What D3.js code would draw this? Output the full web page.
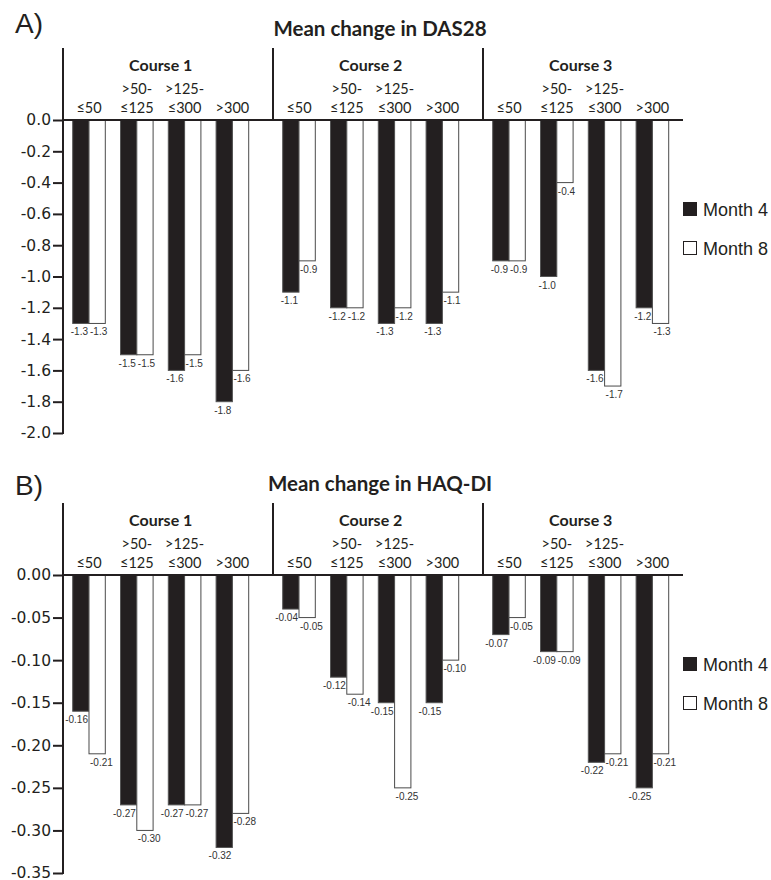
<!DOCTYPE html>
<html>
<head>
<meta charset="utf-8">
<script src="https://cdn.jsdelivr.net/npm/d3@7"></script>
<style>
  body { margin: 0; background: #fff; }
  .tick line { stroke: #231f20; stroke-width: 2; }
  .tick text { font-family: "DejaVu Sans", sans-serif; font-size: 15.5px; fill: #231f20; }
</style>
</head>
<body>
<script>
// data
let courses = ["Course 1", "Course 2", "Course 3"],
  doseGroups = ["≤50", ">50-\n≤125", ">125-\n≤300", ">300"],
  seriesNames = ["Month 4", "Month 8"];

let das28Month4 = [-1.3, -1.5, -1.6, -1.8, -1.1, -1.2, -1.3, -1.3, -0.9, -1.0, -1.6, -1.2],
  das28Month8 = [-1.3, -1.5, -1.5, -1.6, -0.9, -1.2, -1.2, -1.1, -0.9, -0.4, -1.7, -1.3],
  das28Ticks = [0, -0.2, -0.4, -0.6, -0.8, -1.0, -1.2, -1.4, -1.6, -1.8, -2.0];

let haqMonth4 = [-0.16, -0.27, -0.27, -0.32, -0.04, -0.12, -0.15, -0.15, -0.07, -0.09, -0.22, -0.25],
  haqMonth8 = [-0.21, -0.3, -0.27, -0.28, -0.05, -0.14, -0.25, -0.1, -0.05, -0.09, -0.21, -0.21],
  haqTicks = [0, -0.05, -0.1, -0.15, -0.2, -0.25, -0.3, -0.35];

let ink = "#231f20";

let svg = d3
  .select("body")
  .append("svg")
  .attr("width", 771)
  .attr("height", 880);

// shared x layout
var xCourse = d3.scaleBand().domain(courses).range([63, 693]),
  xDose = d3
    .scaleBand()
    .domain(doseGroups)
    .range([9.7, 185.7])
    .paddingInner(0.318),
  xSeries = d3
    .scaleBand()
    .domain(seriesNames)
    .range([0, xDose.bandwidth()]);

let drawPanel = (cfg) => {
  var g = svg.append("g");
  var zeroY = cfg.zeroY;

  var Yaxis = d3
    .scaleLinear()
    .domain([cfg.ticks[cfg.ticks.length - 1], 0])
    .range([cfg.bottom, zeroY]);

  // letter + title
  g.append("text")
    .attr("x", 15)
    .attr("y", zeroY + cfg.letterDy)
    .attr("font-family", "Liberation Sans, Arial, sans-serif")
    .attr("font-size", 28)
    .attr("fill", ink)
    .text(cfg.letter);

  g.append("text")
    .attr("x", 380)
    .attr("y", zeroY - 84)
    .attr("text-anchor", "middle")
    .attr("font-family", "Lato, sans-serif")
    .attr("font-weight", "bold")
    .attr("font-size", 20.5)
    .attr("fill", ink)
    .text(cfg.title);

  // y axis
  var yAx = g
    .append("g")
    .attr("transform", `translate(${xCourse.range()[0]}, 0)`)
    .call(
      d3
        .axisLeft(Yaxis)
        .tickValues(cfg.ticks)
        .tickFormat(cfg.fmt)
        .tickSize(10)
        .tickPadding(2)
    );
  yAx.select(".domain").remove();

  g.append("line")
    .attr("x1", xCourse.range()[0])
    .attr("x2", xCourse.range()[0])
    .attr("y1", zeroY - 72)
    .attr("y2", cfg.bottom + 1)
    .attr("stroke", ink)
    .attr("stroke-width", 2);

  // course separators
  g.selectAll(".sep")
    .data(courses.slice(1))
    .enter()
    .append("line")
    .attr("x1", (d) => xCourse(d))
    .attr("x2", (d) => xCourse(d))
    .attr("y1", zeroY - 72)
    .attr("y2", zeroY)
    .attr("stroke", ink)
    .attr("stroke-width", 2);

  // course + dose labels
  g.selectAll(".course")
    .data(courses)
    .enter()
    .append("text")
    .attr("x", (d) => xCourse(d) + (xDose.range()[0] + xDose.range()[1]) / 2)
    .attr("y", zeroY - 49)
    .attr("text-anchor", "middle")
    .attr("font-family", "Lato, sans-serif")
    .attr("font-weight", "bold")
    .attr("font-size", 16)
    .attr("fill", ink)
    .text((d) => d);

  courses.forEach((c) => {
    doseGroups.forEach((dg) => {
      var lines = dg.split("\n"),
        cx = xCourse(c) + xDose(dg) + xDose.bandwidth() / 2;
      lines.forEach((ln, i) => {
        g.append("text")
          .attr("x", cx)
          .attr("y", zeroY - 7 - (lines.length - 1 - i) * 19)
          .attr("text-anchor", "middle")
          .attr("font-family", "Lato, sans-serif")
          .attr("font-size", 14.5)
          .attr("fill", ink)
          .text(ln);
      });
    });
  });

  // bars
  var showData = [];
  courses.forEach((c, ci) => {
    doseGroups.forEach((dg, di) => {
      var k = ci * doseGroups.length + di;
      showData.push({ course: c, dose: dg, series: seriesNames[0], val: cfg.m4[k] });
      showData.push({ course: c, dose: dg, series: seriesNames[1], val: cfg.m8[k] });
    });
  });

  g.selectAll(".bar")
    .data(showData)
    .enter()
    .append("rect")
    .attr("x", (d) => xCourse(d.course) + xDose(d.dose) + xSeries(d.series))
    .attr("y", Yaxis(0))
    .attr("width", xSeries.bandwidth())
    .attr("height", (d) => Yaxis(d.val) - Yaxis(0))
    .attr("fill", (d) => (d.series === seriesNames[0] ? ink : "#fff"))
    .attr("stroke", (d) => (d.series === seriesNames[0] ? "#555" : "#4a4a4a"))
    .attr("stroke-width", 1);

  g.selectAll(".vlab")
    .data(showData)
    .enter()
    .append("text")
    .attr("x", (d) => {
      var mid = xCourse(d.course) + xDose(d.dose) + xDose.bandwidth() / 2;
      return d.series === seriesNames[0] ? mid - 1 : mid + 1;
    })
    .attr("y", (d) => Yaxis(d.val) + 12)
    .attr("text-anchor", (d) => (d.series === seriesNames[0] ? "end" : "start"))
    .attr("font-family", "Liberation Sans, Arial, sans-serif")
    .attr("font-size", 10)
    .attr("fill", "#333")
    .text((d) => cfg.fmt(d.val));

  // zero line
  g.append("line")
    .attr("x1", xCourse.range()[0] - 1)
    .attr("x2", xCourse.range()[1] - 10)
    .attr("y1", zeroY)
    .attr("y2", zeroY)
    .attr("stroke", ink)
    .attr("stroke-width", 2);

  // legend
  var leg = g
    .selectAll(".legend")
    .data(seriesNames)
    .enter()
    .append("g")
    .attr("transform", (d, i) => `translate(683, ${zeroY + 82 + i * 39})`);
  leg
    .append("rect")
    .attr("width", 13)
    .attr("height", 13)
    .attr("x", 0.5)
    .attr("y", 0.5)
    .attr("fill", (d, i) => (i === 0 ? ink : "#fff"))
    .attr("stroke", ink)
    .attr("stroke-width", 1);
  leg
    .append("text")
    .attr("x", 20)
    .attr("y", 13.5)
    .attr("font-family", "Liberation Sans, Arial, sans-serif")
    .attr("font-size", 18)
    .attr("fill", ink)
    .text((d) => d);
};

drawPanel({
  letter: "A)",
  letterDy: -87,
  title: "Mean change in DAS28",
  zeroY: 120,
  bottom: 433,
  ticks: das28Ticks,
  fmt: (v) => v.toFixed(1),
  m4: das28Month4,
  m8: das28Month8,
});

drawPanel({
  letter: "B)",
  letterDy: -80,
  title: "Mean change in HAQ-DI",
  zeroY: 575,
  bottom: 873,
  ticks: haqTicks,
  fmt: (v) => v.toFixed(2),
  m4: haqMonth4,
  m8: haqMonth8,
});
</script>
</body>
</html>
